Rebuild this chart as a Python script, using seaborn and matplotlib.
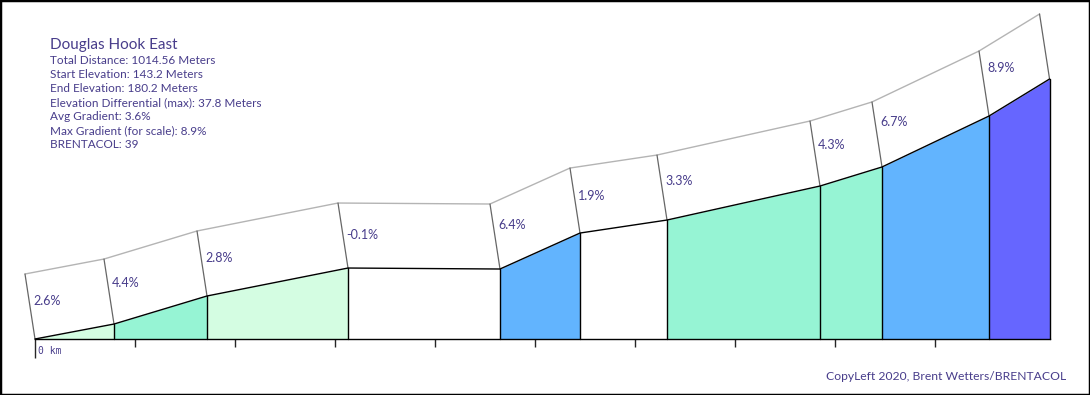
import matplotlib
matplotlib.use("Agg")
import matplotlib.pyplot as plt
import matplotlib.transforms as mtrans
import seaborn as sns
import numpy as np
from matplotlib.patches import Rectangle

# ---- data ----
dist = [0, 79, 172, 313, 465, 545, 632, 785, 847, 954, 1014.56]          # meters
elev = [143.2, 145.33, 149.32, 153.30, 153.16, 158.28, 160.13, 164.97, 167.68, 174.93, 180.2]
grades = ["2.6%", "4.4%", "2.8%", "-0.1%", "6.4%", "1.9%", "3.3%", "4.3%", "6.7%", "8.9%"]
grade_vals = [2.6, 4.4, 2.8, -0.1, 6.4, 1.9, 3.3, 4.3, 6.7, 8.9]
title = "Douglas Hook East"
info = ["Total Distance: 1014.56 Meters",
        "Start Elevation: 143.2 Meters",
        "End Elevation: 180.2 Meters",
        "Elevation Differential (max): 37.8 Meters",
        "Avg Gradient: 3.6%",
        "Max Gradient (for scale): 8.9%",
        "BRENTACOL: 39"]
credit = "CopyLeft 2020, Brent Wetters/BRENTACOL"
minor_ticks = [100, 200, 300, 400, 500, 600, 700, 800, 900]

def grade_color(g):
    if g < 2:
        return "#ffffff"
    if g < 3:
        return "#d4fde2"
    if g < 6:
        return "#96f4d4"
    if g < 8:
        return "#62b4fe"
    return "#6666ff"

TXT = "#483d8b"
PXM = 7.027  # px per meter elevation
sns.set_style("white")
plt.rcParams['font.family'] = ['Lato', 'DejaVu Sans']

fig = plt.figure(figsize=(10.9, 3.95), dpi=100)
ax = fig.add_axes([0, 0, 1, 1])
base = elev[0]
ax.set_xlim(-35, 1055)
ax.set_ylim(base - 56 / PXM, base + 339 / PXM)

dx, dy = -10, 65 / PXM

# fills
for i in range(len(grades)):
    xs = [dist[i], dist[i + 1]]
    ys = [elev[i], elev[i + 1]]
    ax.fill_between(xs, [base, base], ys, color=grade_color(grade_vals[i]), lw=0, zorder=1)

# vertical black lines
for x, e in zip(dist[1:], elev[1:]):
    ax.plot([x, x], [base, e], color="black", lw=1, zorder=3)

# profile
sns.lineplot(x=dist, y=elev, color="black", lw=1, ax=ax, zorder=4, sort=False)
# top line
top_x = [x + dx for x in dist]
top_y = [e + dy for e in elev]
sns.lineplot(x=top_x, y=top_y, color="#b4b4b4", lw=1, ax=ax, zorder=2, sort=False)
# side lines
for x, e, tx, ty in zip(dist, elev, top_x, top_y):
    ax.plot([x, tx], [e, ty], color="#666666", lw=0.9, zorder=2)

# grade labels
for i, g in enumerate(grades):
    slope = (elev[i + 1] - elev[i]) / (dist[i + 1] - dist[i])
    ax.text(dist[i] - 2, elev[i] + slope * 25 + 33 / PXM, g, color=TXT,
            fontsize=9, ha="left", va="center", zorder=5)

# axis: baseline with ticks
for s in ["top", "left", "right"]:
    ax.spines[s].set_visible(False)
ax.spines["bottom"].set_position(("data", base))
ax.spines["bottom"].set_bounds(0, dist[-1])
ax.spines["bottom"].set_color("black")
ax.spines["bottom"].set_linewidth(1)
ax.spines["bottom"].set_zorder(6)
ax.set_yticks([])
ax.set_xticks([0])
ax.set_xticklabels(["0 km"])
ax.set_xticks(minor_ticks, minor=True)
ax.tick_params(axis="x", which="major", length=14, width=1, direction="out",
               bottom=True, pad=-9, labelsize=7, labelcolor=TXT)
ax.tick_params(axis="x", which="minor", length=6, width=1, direction="out", bottom=True)
shift = mtrans.ScaledTranslation(3 / 100, 0, fig.dpi_scale_trans)
for lab in ax.get_xticklabels():
    lab.set_family("DejaVu Sans Mono")
    lab.set_ha("left")
    lab.set_transform(lab.get_transform() + shift)

# info text
fig.text(50 / 1090, 1 - 45 / 395, title, color=TXT, fontsize=11, ha="left", va="center")
for k, line in enumerate(info):
    fig.text(50 / 1090, 1 - (60 + 14.1 * k) / 395, line, color=TXT, fontsize=8.5,
             ha="left", va="center")
fig.text(1066 / 1090, 1 - 377 / 395, credit, color=TXT, fontsize=8.7, ha="right", va="center")

fig.patches.append(Rectangle((0, 0), 1, 1, transform=fig.transFigure, fill=False,
                             edgecolor="black", lw=2.5))
fig.savefig("out.png", dpi=100)
